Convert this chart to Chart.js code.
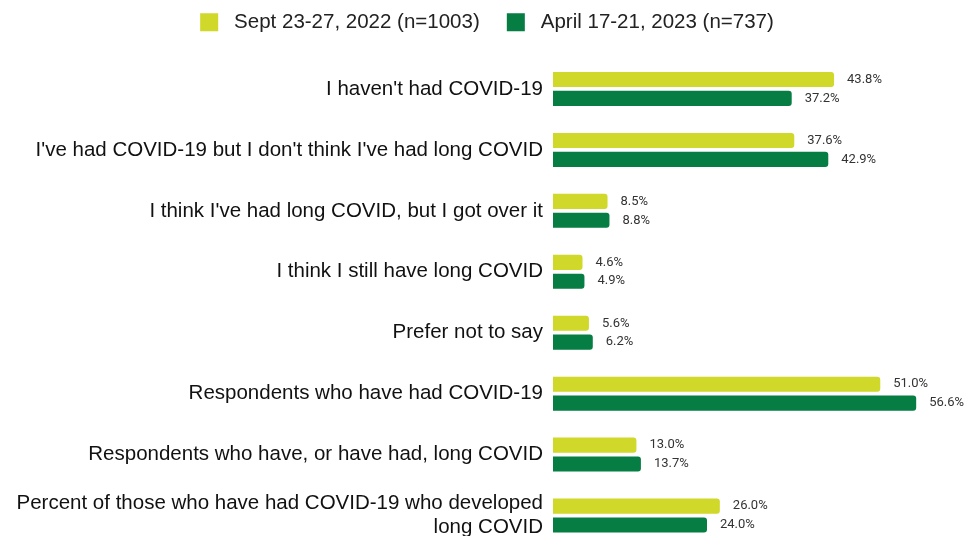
<!DOCTYPE html>
<html>
<head>
<meta charset="utf-8">
<script src="https://cdn.jsdelivr.net/npm/chart.js@4"></script>
<style>
  html, body { margin: 0; padding: 0; background: #fff; overflow: hidden; height: 536px; }
  .chart-frame { position: relative; width: 967px; height: 546px; }
</style>
</head>
<body>
<div class="chart-frame"><canvas id="chart"></canvas></div>
<script>
const categories = [
  "I haven't had COVID-19",
  "I've had COVID-19 but I don't think I've had long COVID",
  "I think I've had long COVID, but I got over it",
  'I think I still have long COVID',
  'Prefer not to say',
  'Respondents who have had COVID-19',
  'Respondents who have, or have had, long COVID',
  ['Percent of those who have had COVID-19 who developed', 'long COVID']
];
const seriesNames = ['Sept 23-27, 2022 (n=1003)', 'April 17-21, 2023 (n=737)'];
const sept2022 = [43.8, 37.6, 8.5, 4.6, 5.6, 51.0, 13.0, 26.0];
const april2023 = [37.2, 42.9, 8.8, 4.9, 6.2, 56.6, 13.7, 24.0];
const colors = ['#d0d82a', '#057d43'];

// value labels at the end of each bar
const valueLabels = {
  id: 'valueLabels',
  afterDatasetsDraw(chart) {
    const ctx = chart.ctx;
    ctx.save();
    ctx.font = '13px Roboto';
    ctx.fillStyle = '#333';
    ctx.textBaseline = 'middle';
    chart.data.datasets.forEach((ds, i) => {
      chart.getDatasetMeta(i).data.forEach((bar, j) => {
        ctx.fillText(ds.data[j].toFixed(1) + '%', bar.x + 13, bar.y);
      });
    });
    ctx.restore();
  }
};

// extra room under the legend, and centre it on the whole canvas
const legendGap = {
  id: 'legendGap',
  beforeInit(chart) {
    const fit = chart.legend.fit;
    chart.legend.fit = function () {
      fit.call(this);
      this.height += 16;
    };
  },
  afterLayout(chart) {
    chart.legend.left = 7;
    chart.legend.right = chart.width;
  }
};

new Chart(document.getElementById('chart'), {
  type: 'bar',
  data: {
    labels: categories,
    datasets: [
      { label: seriesNames[0], data: sept2022, backgroundColor: colors[0], borderRadius: { topRight: 3, bottomRight: 3 }, borderSkipped: 'start' },
      { label: seriesNames[1], data: april2023, backgroundColor: colors[1], borderRadius: { topRight: 3, bottomRight: 3 }, borderSkipped: 'start' }
    ]
  },
  options: {
    indexAxis: 'y',
    responsive: true,
    maintainAspectRatio: false,
    animation: false,
    categoryPercentage: 0.62,
    barPercentage: 0.8,
    layout: { padding: { left: 12, right: 29, top: 2, bottom: 0 } },
    plugins: {
      legend: {
        position: 'top',
        labels: {
          boxWidth: 18, boxHeight: 18, padding: 10, color: '#222',
          font: { family: 'Liberation Sans', size: 20.5 },
          generateLabels: (chart) => Chart.defaults.plugins.legend.labels.generateLabels(chart)
            .map((item, i) => ({ ...item, text: ' ' + item.text + (i === 0 ? '   ' : '') }))
        }
      },
      tooltip: { enabled: false }
    },
    scales: {
      x: { display: false, min: 0, max: 60 },
      y: {
        grid: { display: false, drawTicks: false },
        border: { display: false },
        afterFit: (scale) => {
          scale.width = 541;
          scale.paddingTop = 0;
          scale.paddingBottom = 0;
        },
        ticks: { padding: 10, color: '#111', font: { family: 'Liberation Sans', size: 20.5, lineHeight: 1.17 } }
      }
    }
  },
  plugins: [valueLabels, legendGap]
});
</script>
</body>
</html>
